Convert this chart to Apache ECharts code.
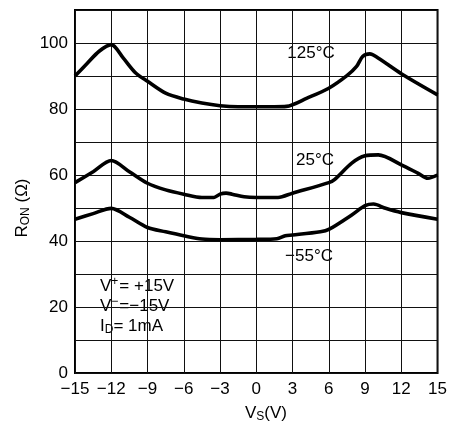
<!DOCTYPE html>
<html>
<head>
<meta charset="utf-8">
<script src="https://cdn.jsdelivr.net/npm/echarts@6/dist/echarts.min.js"></script>
<style>
  html, body { margin: 0; padding: 0; background: #fff; }
  #chart { width: 450px; height: 423px; }
</style>
</head>
<body>
<div id="chart"></div>
<script>
// V_S (V) sample points and R_ON (ohm)
const vsHot = [-15, -14, -13, -12, -11, -10, -9, -7.5, -6, -4.5, -3, -1.5, 0, 1.5, 2.5, 4.2, 6, 7.5, 8.3, 8.8, 9.4, 9.9, 12, 15]
const ronHot = [90, 93.8, 97.5, 99.5, 95.4, 91, 88.4, 84.8, 83, 81.8, 81, 80.7, 80.7, 80.7, 80.8, 83.3, 86.3, 90.1, 92.9, 95.9, 96.7, 95.9, 90.7, 84.3]

const vsRoom = [-15, -13.5, -12, -10.5, -9, -7.5, -6, -4.5, -3.5, -3, -2.5, -2, -1, 0, 1.8, 3, 6, 6.5, 7.9, 9, 10.1, 12, 13.4, 14.2, 15]
const ronRoom = [57.7, 61, 64.4, 61, 57.5, 55.5, 54.2, 53.2, 53.2, 54.2, 54.5, 54.2, 53.4, 53.2, 53.2, 54.5, 57.7, 58.7, 63.6, 65.8, 66.1, 63.1, 60.5, 59.0, 60.0]

const vsCold = [-15, -13.5, -12, -10.5, -9, -7.5, -6, -4.5, -3, 0, 1.7, 2.4, 3, 5.3, 6, 7.9, 9, 9.7, 10.7, 12, 15]
const ronCold = [46.6, 48.3, 49.9, 47.2, 44.1, 42.8, 41.6, 40.6, 40.4, 40.5, 40.7, 41.6, 41.8, 42.8, 43.5, 47.9, 50.7, 51.2, 49.9, 48.6, 46.6]

const curveNames = ['125°C', '25°C', '−55°C']

const FONT = '"Liberation Sans", Arial, sans-serif'

function pairs(xs, ys) {
  return xs.map((x, i) => [x, ys[i]])
}

const chart = echarts.init(document.getElementById('chart'))

const lineStyle = { color: '#000', width: 3.6 }
const gridLine = { show: true, lineStyle: { color: '#111', width: 1 } }

const option = {
  animation: false,
  grid: {
    left: 75,
    right: 10,
    top: 10,
    bottom: 50,
    show: true,
    borderColor: '#000',
    borderWidth: 2
  },
  xAxis: {
    type: 'value',
    min: -15,
    max: 15,
    interval: 3,
    axisLine: { show: false },
    axisTick: { show: false },
    splitLine: gridLine,
    axisLabel: {
      color: '#000',
      fontFamily: FONT,
      fontSize: 17,
      margin: 8,
      formatter: v => String(v).replace('-', '−')
    }
  },
  yAxis: {
    type: 'value',
    min: 0,
    max: 110,
    interval: 10,
    axisLine: { show: false },
    axisTick: { show: false },
    splitLine: gridLine,
    axisLabel: {
      color: '#000',
      fontFamily: FONT,
      fontSize: 17,
      margin: 7,
      formatter: v => (v % 20 === 0 && v <= 100 ? String(v) : '')
    }
  },
  series: [
    { name: curveNames[0], type: 'line', data: pairs(vsHot, ronHot), smooth: 0.3, symbol: 'none', lineStyle: lineStyle },
    { name: curveNames[1], type: 'line', data: pairs(vsRoom, ronRoom), smooth: 0.3, symbol: 'none', lineStyle: lineStyle },
    { name: curveNames[2], type: 'line', data: pairs(vsCold, ronCold), smooth: 0.3, symbol: 'none', lineStyle: lineStyle }
  ],
  graphic: [
    // y axis title
    {
      type: 'text',
      x: 22,
      y: 208,
      rotation: Math.PI / 2,
      style: {
        text: '{m|R}{s|ON}{m| (Ω)}',
        align: 'center',
        verticalAlign: 'middle',
        fill: '#000',
        rich: {
          m: { fontSize: 17, fontFamily: FONT, lineHeight: 20, verticalAlign: 'middle' },
          s: { fontSize: 12, fontFamily: FONT, lineHeight: 20, verticalAlign: 'bottom' }
        }
      }
    },
    // x axis title
    {
      type: 'text',
      x: 266,
      y: 413,
      style: {
        text: '{m|V}{s|S}{m|(V)}',
        align: 'center',
        verticalAlign: 'middle',
        fill: '#000',
        rich: {
          m: { fontSize: 17, fontFamily: FONT, lineHeight: 20, verticalAlign: 'middle' },
          s: { fontSize: 12, fontFamily: FONT, lineHeight: 20, verticalAlign: 'bottom' }
        }
      }
    },
    // curve labels
    { type: 'text', x: 311, y: 53, style: { text: curveNames[0], font: '17px ' + FONT, fill: '#000', align: 'center', verticalAlign: 'middle' } },
    { type: 'text', x: 315, y: 160, style: { text: curveNames[1], font: '17px ' + FONT, fill: '#000', align: 'center', verticalAlign: 'middle' } },
    { type: 'text', x: 309, y: 256, style: { text: curveNames[2], font: '17px ' + FONT, fill: '#000', align: 'center', verticalAlign: 'middle' } },
    // conditions box
    { type: 'rect', shape: { x: 97, y: 275, width: 85, height: 64 }, style: { fill: '#fff' } },
    {
      type: 'text',
      x: 100,
      y: 276,
      style: {
        text: '{m|V}{u|+}{m|= +15V}\n{m|V}{u|−}{m|=−15V}\n{m|I}{d|D}{m|= 1mA}',
        fill: '#000',
        rich: {
          m: { fontSize: 17, fontFamily: FONT, lineHeight: 20, verticalAlign: 'middle' },
          u: { fontSize: 12, fontFamily: FONT, lineHeight: 20, verticalAlign: 'top', padding: [0, 1, 0, 0] },
          d: { fontSize: 12, fontFamily: FONT, lineHeight: 20, verticalAlign: 'bottom' }
        }
      }
    }
  ]
}

chart.setOption(option)
</script>
</body>
</html>
